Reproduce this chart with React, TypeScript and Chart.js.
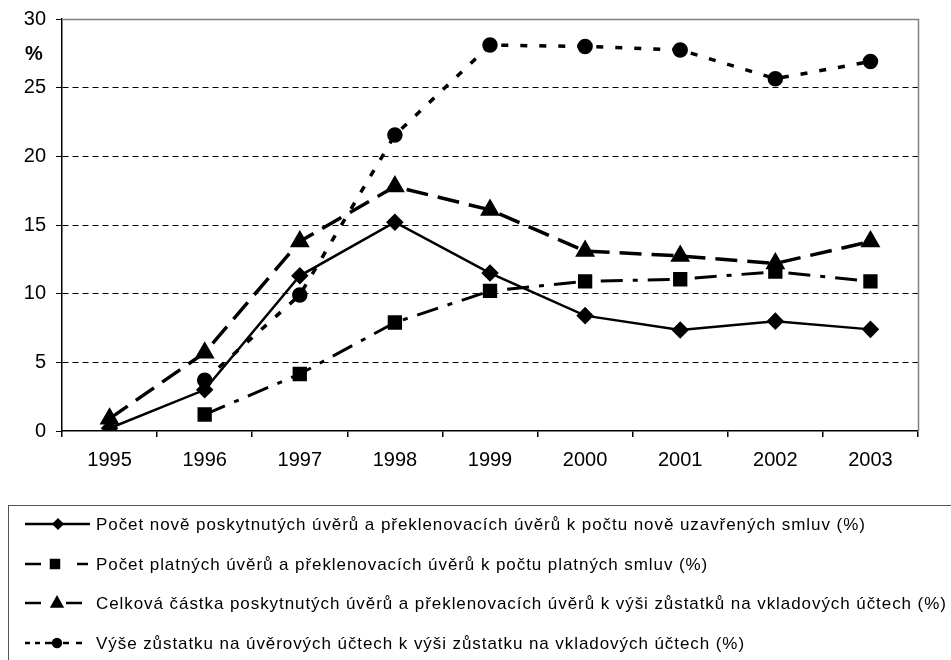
import React, { useEffect, useRef } from "react";
import { Chart, registerables } from "chart.js";

Chart.register(...registerables);

const years = ["1995", "1996", "1997", "1998", "1999", "2000", "2001", "2002", "2003"];
const novePoskytnute = [0.2, 3.0, 11.3, 15.2, 11.5, 8.4, 7.35, 8.0, 7.4];
const platneUvery = [null, 1.2, 4.15, 7.9, 10.2, 10.9, 11.05, 11.6, 10.9];
const celkovaCastka = [0.9, 5.7, 13.8, 17.8, 16.1, 13.1, 12.75, 12.2, 13.8];
const vyseZustatku = [null, 3.7, 9.9, 21.55, 28.1, 28.0, 27.75, 25.65, 26.9];
const labels = [
  "Počet nově poskytnutých úvěrů a překlenovacích úvěrů k počtu nově uzavřených smluv (%)",
  "Počet platných úvěrů a překlenovacích úvěrů k počtu platných smluv (%)",
  "Celková částka poskytnutých úvěrů a překlenovacích úvěrů k výši zůstatků na vkladových účtech (%)",
  "Výše zůstatku na úvěrových účtech k výši zůstatku na vkladových účtech (%)",
];

const FONT = "'Liberation Sans', Arial, sans-serif";

function drawMarker(ctx: CanvasRenderingContext2D, style: string, x: number, y: number, r: number) {
  ctx.beginPath();
  if (style === "rectRot") {
    ctx.moveTo(x, y - r); ctx.lineTo(x + r, y); ctx.lineTo(x, y + r); ctx.lineTo(x - r, y); ctx.closePath();
  } else if (style === "rect") {
    ctx.rect(x - r * 0.75, y - r * 0.75, r * 1.5, r * 1.5);
  } else if (style === "triangle") {
    ctx.moveTo(x, y - r); ctx.lineTo(x + r * 0.9, y + r * 0.6); ctx.lineTo(x - r * 0.9, y + r * 0.6); ctx.closePath();
  } else {
    ctx.arc(x, y, r * 0.8, 0, Math.PI * 2);
  }
  ctx.fill();
}

// legend sample segments (decoration only)
const legendSegs: number[][][] = [
  [[25, 90]],
  [[25, 41], [77, 88]],
  [[25, 41], [66, 82]],
  [[25, 30], [35, 40], [45, 53], [63, 69], [76, 82]],
];
const legendMarkers = [
  { style: "rectRot", x: 58, r: 6 },
  { style: "rect", x: 55, r: 7 },
  { style: "triangle", x: 57, r: 8 },
  { style: "circle", x: 57, r: 6.5 },
];

const framePlugin = {
  id: "frame",
  beforeDatasetsDraw(chart: any) {
    const { ctx, chartArea: a } = chart;
    ctx.save();
    ctx.strokeStyle = "#808080";
    ctx.lineWidth = 1.5;
    ctx.beginPath();
    ctx.moveTo(a.left, a.top + 0.5);
    ctx.lineTo(a.right + 0.5, a.top + 0.5);
    ctx.lineTo(a.right + 0.5, a.bottom);
    ctx.stroke();
    ctx.restore();
  },
  afterDraw(chart: any) {
    const { ctx } = chart;
    ctx.save();
    ctx.font = `bold 20px ${FONT}`;
    ctx.fillStyle = "#000";
    ctx.textAlign = "left";
    ctx.textBaseline = "middle";
    ctx.fillText("%", 25, 54);
    ctx.strokeStyle = "#555";
    ctx.lineWidth = 1;
    ctx.strokeRect(8.5, 505.5, 960, 200);
    const rows = [524, 564, 603, 643];
    chart.data.datasets.forEach((ds: any, i: number) => {
      const y = rows[i];
      ctx.strokeStyle = "#000";
      ctx.fillStyle = "#000";
      ctx.lineWidth = 2.5;
      ctx.beginPath();
      legendSegs[i].forEach(([x1, x2]) => { ctx.moveTo(x1, y); ctx.lineTo(x2, y); });
      ctx.stroke();
      const m = legendMarkers[i];
      drawMarker(ctx, m.style, m.x, y, m.r);
      ctx.font = `17px ${FONT}`;
      (ctx as any).letterSpacing = "0.93px";
      ctx.textBaseline = "middle";
      ctx.fillText(ds.label, 96, y + 1);
    });
    ctx.restore();
  },
};

export default function App() {
  const ref = useRef<HTMLCanvasElement>(null);
  useEffect(() => {
    if (!ref.current) return;
    const common = { borderColor: "#000", backgroundColor: "#000", pointBackgroundColor: "#000", pointBorderColor: "#000", spanGaps: true, tension: 0 };
    const chart = new Chart(ref.current, {
      type: "line",
      data: {
        labels: years,
        datasets: [
          { ...common, label: labels[0], data: novePoskytnute, borderWidth: 2.5, pointStyle: "rectRot", pointRadius: 7 },
          { ...common, label: labels[1], data: platneUvery as any, borderWidth: 3, borderDash: [22, 10, 5, 10], pointStyle: "rect", pointRadius: 8 },
          { ...common, label: labels[2], data: celkovaCastka, borderWidth: 3.5, borderDash: [22, 10], pointStyle: "triangle", pointRadius: 8 },
          { ...common, label: labels[3], data: vyseZustatku as any, borderWidth: 3.5, borderDash: [7, 12], pointStyle: "circle", pointRadius: 6 },
        ],
      },
      options: {
        animation: false,
        responsive: false,
        layout: { padding: { top: 19, right: 33, left: 0, bottom: 0 } },
        plugins: { legend: { display: false }, tooltip: { enabled: false } },
        scales: {
          x: {
            offset: true,
            grid: { offset: true, drawOnChartArea: false, drawTicks: true, tickLength: 6, color: "#000", lineWidth: 1.5 },
            border: { color: "#000", width: 1.5 },
            ticks: { color: "#000", font: { family: FONT, size: 20 }, padding: 11, maxRotation: 0 },
            afterFit: (s: any) => { s.height = 229; s.paddingLeft = 0; s.paddingRight = 0; },
          },
          y: {
            min: 0,
            max: 30,
            ticks: { stepSize: 5, color: "#000", font: { family: FONT, size: 20 }, padding: 10 },
            grid: {
              color: (c: any) => (c.tick && (c.tick.value === 0 || c.tick.value === 30) ? "rgba(0,0,0,0)" : "#000"),
              tickColor: "#000",
              tickLength: 6,
              lineWidth: 1,
            },
            border: { color: "#000", width: 1.5, dash: [6, 4] },
            afterFit: (s: any) => { s.width = 62; s.paddingTop = 0; s.paddingBottom = 0; },
          },
        },
      },
      plugins: [framePlugin],
    });
    return () => chart.destroy();
  }, []);
  return (
    <div style={{ position: "fixed", left: 0, top: 0, width: 951, height: 660, background: "#fff" }}>
      <canvas ref={ref} width={951} height={660} style={{ width: 951, height: 660 }} />
    </div>
  );
}
